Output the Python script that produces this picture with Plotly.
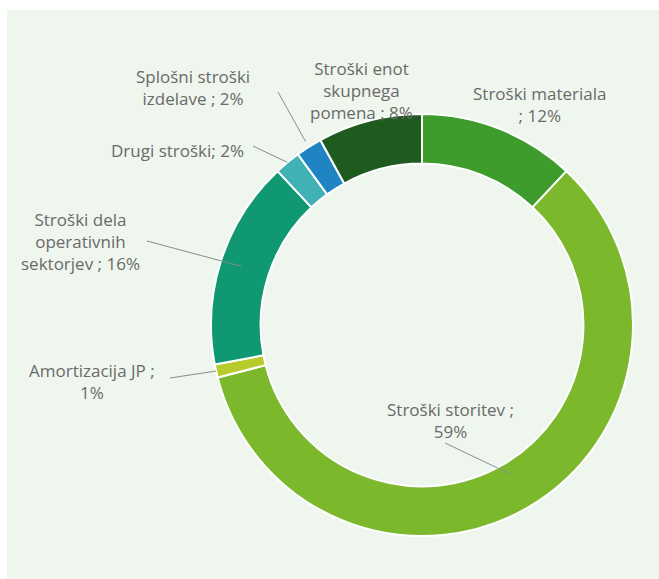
import math
import plotly.graph_objects as go

# Cost structure shares (percent), clockwise from 12 o'clock
labels = [
    "Stroški materiala",
    "Stroški storitev",
    "Amortizacija JP",
    "Stroški dela operativnih sektorjev",
    "Drugi stroški",
    "Splošni stroški izdelave",
    "Stroški enot skupnega pomena",
]
values = [12, 59, 1, 16, 2, 2, 8]
colors = ["#3d9c2c", "#7cb82c", "#b8cb2c", "#0f9871", "#40b2b6", "#1f85c2", "#1f5b1f"]

# Label text shown next to the ring
label_texts = [
    "Stroški materiala<br>; 12%",
    "Stroški storitev ;<br>59%",
    "Amortizacija JP ;<br>1%",
    "Stroški dela<br>operativnih<br>sektorjev ; 16%",
    "Drugi stroški; 2%",
    "Splošni stroški<br>izdelave ; 2%",
    "Stroški enot<br>skupnega<br>pomena ; 8%",
]

W, H = 659, 579
CX, CY, R = 422, 325, 211  # ring centre and outer radius in pixels
HOLE = 0.765

# label centre (px), leader-line start (px, or None), radial factor for line end
label_layout = [
    ((540, 104), None, None),
    ((450, 420), (445, 443), 0.82),
    ((92, 381), (170, 378), 1.0),
    ((80, 241), (147, 241), 0.9),
    ((177, 150), (253, 146), 1.0),
    ((193, 88), (278, 92), 1.03),
    ((362, 90), None, None),
]


def px(x):
    return x / W


def py(y):
    return 1 - y / H


fig = go.Figure()
fig.add_trace(
    go.Pie(
        labels=labels,
        values=values,
        hole=HOLE,
        sort=False,
        direction="clockwise",
        rotation=0,
        marker=dict(colors=colors, line=dict(color="white", width=2)),
        textinfo="none",
        hoverinfo="label+percent",
        showlegend=False,
        domain=dict(x=[px(CX - R), px(CX + R)], y=[py(CY + R), py(CY - R)]),
    )
)

shapes = [
    dict(
        type="rect", xref="paper", yref="paper",
        x0=px(7), x1=1, y0=0, y1=py(10),
        fillcolor="#eff6ee", line=dict(width=0), layer="below",
    )
]
annotations = []

total = sum(values)
cum = 0
for v, text, (pos, start, rf) in zip(values, label_texts, label_layout):
    mid = (cum + v / 2) / total * 2 * math.pi
    cum += v
    annotations.append(
        dict(
            x=px(pos[0]), y=py(pos[1]), xref="paper", yref="paper",
            text=text, showarrow=False, align="center",
            xanchor="center", yanchor="middle",
            font=dict(family="Open Sans", size=17, color="#6a6a6a"),
        )
    )
    if start is not None:
        ex = CX + rf * R * math.sin(mid)
        ey = CY - rf * R * math.cos(mid)
        shapes.append(
            dict(
                type="line", xref="paper", yref="paper",
                x0=px(start[0]), y0=py(start[1]), x1=px(ex), y1=py(ey),
                line=dict(color="#8c8c8c", width=1),
            )
        )

fig.update_layout(
    width=W, height=H,
    margin=dict(l=0, r=0, t=0, b=0),
    paper_bgcolor="white",
    shapes=shapes,
    annotations=annotations,
)

fig.write_html("out.html")
